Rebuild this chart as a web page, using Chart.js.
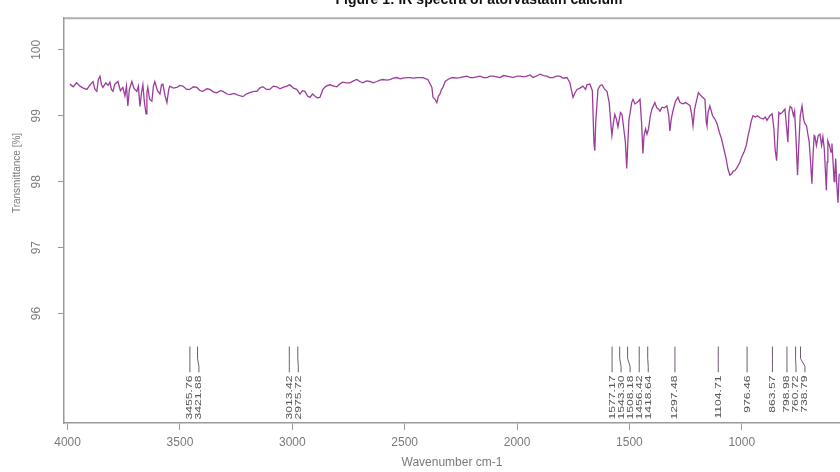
<!DOCTYPE html>
<html>
<head>
<meta charset="utf-8">
<script src="https://cdn.jsdelivr.net/npm/chart.js@4.4.1/dist/chart.umd.min.js"></script>
<style>
html,body{margin:0;padding:0;background:#fff;overflow:hidden;}
canvas{display:block;}
</style>
</head>
<body>
<canvas id="c" width="840" height="472"></canvas>
<script>
// ---- data ----
const titleText = "Figure 1: IR spectra of atorvastatin calcium";
const xTitle = "Wavenumber cm-1";
const yTitle = "Transmittance [%]";
const xTickValues = [4000, 3500, 3000, 2500, 2000, 1500, 1000];
const yTickValues = [96, 97, 98, 99, 100];

const wavenumbers = [
3990,3975,3960,3945,3930,3914,3900,3887,3878,3870,3863,3856,3849,3843,3830,3820,3812,3805,3798,3790,
3776,3765,3754,3745,3738,3732,3725,3714,3705,3692,3685,3678,3671,3665,3658,3651,3647,3643,3635,3625,
3618,3612,3600,3589,3582,3576,3566,3558,3550,3545,3530,3514,3500,3487,3470,3456,3440,3425,3410,3398,
3380,3367,3350,3336,3320,3309,3290,3278,3260,3247,3230,3220,3205,3189,3170,3158,3145,3131,3115,3100,
3085,3069,3055,3042,3025,3011,2995,2980,2966,2955,2944,2932,2922,2910,2900,2888,2877,2864,2850,2833,
2815,2802,2790,2775,2760,2744,2728,2713,2700,2686,2670,2655,2640,2624,2610,2597,2580,2566,2550,2535,
2520,2508,2490,2477,2460,2446,2430,2419,2405,2397,2385,2379,2374,2365,2357,2350,2343,2336,2330,2320,
2308,2295,2285,2270,2254,2240,2223,2210,2196,2180,2165,2150,2134,2120,2107,2090,2076,2060,2045,2030,
2018,2000,1987,1970,1956,1942,1929,1915,1898,1882,1867,1855,1840,1825,1809,1795,1778,1765,1751,1742,
1733,1720,1707,1695,1689,1676,1665,1658,1654,1650,1640,1630,1622,1610,1600,1590,1582,1578,1571,1565,
1558,1551,1545,1540,1533,1525,1518,1512,1507,1502,1498,1490,1484,1475,1467,1460,1453,1446,1440,1435,
1428,1422,1415,1407,1400,1393,1387,1378,1370,1364,1355,1345,1333,1325,1320,1314,1306,1295,1284,1275,
1262,1250,1240,1230,1222,1217,1210,1200,1193,1186,1175,1164,1158,1155,1150,1142,1130,1120,1110,1100,
1090,1080,1070,1062,1053,1045,1038,1030,1020,1008,1000,990,980,972,965,958,950,940,930,919,
905,895,888,875,865,857,852,845,840,835,830,820,808,800,795,790,785,778,770,765,
758,752,747,740,732,725,719,712,706,700,694,688,683,678,675,668,660,652,645,639,
633,627,624,620,617,610,603,599,594,589,586,582,578,572,567,563
];
const transmittance = [
99.48,99.44,99.50,99.45,99.42,99.40,99.47,99.52,99.40,99.37,99.55,99.60,99.47,99.43,99.50,99.46,99.51,99.40,99.37,99.48,
99.52,99.38,99.43,99.30,99.45,99.15,99.40,99.52,99.42,99.37,99.45,99.14,99.35,99.47,99.20,99.03,99.35,99.43,99.25,99.22,
99.45,99.52,99.38,99.33,99.47,99.48,99.30,99.20,99.40,99.45,99.42,99.43,99.46,99.45,99.40,99.40,99.44,99.43,99.38,99.37,
99.41,99.40,99.36,99.35,99.38,99.37,99.33,99.32,99.34,99.32,99.30,99.29,99.33,99.35,99.37,99.37,99.42,99.44,99.40,99.40,
99.45,99.44,99.41,99.43,99.45,99.47,99.42,99.40,99.33,99.38,99.37,99.30,99.28,99.33,99.30,99.27,99.28,99.40,99.45,99.47,
99.45,99.44,99.48,99.51,99.50,99.50,99.53,99.55,99.52,99.50,99.53,99.52,99.50,99.52,99.54,99.55,99.54,99.55,99.57,99.58,
99.56,99.57,99.58,99.58,99.57,99.58,99.58,99.58,99.56,99.55,99.47,99.43,99.28,99.25,99.20,99.30,99.33,99.40,99.43,99.52,
99.55,99.57,99.58,99.57,99.58,99.59,99.60,99.58,99.58,99.59,99.60,99.58,99.58,99.60,99.60,99.59,99.58,99.61,99.60,99.59,
99.58,99.60,99.60,99.59,99.60,99.62,99.58,99.60,99.63,99.61,99.60,99.58,99.58,99.60,99.60,99.57,99.58,99.50,99.28,99.35,
99.40,99.42,99.45,99.40,99.47,99.48,99.38,98.60,98.47,98.90,99.40,99.46,99.47,99.40,99.37,99.20,98.85,98.70,98.90,99.02,
98.95,98.83,98.95,99.05,99.02,98.80,98.60,98.20,98.60,98.95,99.02,99.20,99.25,99.18,99.20,99.22,99.25,98.90,98.43,98.70,
98.80,98.72,98.80,99.00,99.10,99.15,99.20,99.12,99.10,99.07,99.13,99.12,99.15,99.00,98.77,98.95,99.08,99.22,99.28,99.20,
99.18,99.20,99.18,99.15,99.00,98.85,99.10,99.25,99.35,99.32,99.28,99.25,98.90,98.85,99.05,99.15,99.00,98.95,98.88,98.75,
98.65,98.50,98.35,98.20,98.10,98.12,98.16,98.17,98.22,98.30,98.38,98.45,98.55,98.70,98.80,98.92,99.00,98.98,99.00,98.97,
98.95,98.98,98.93,99.00,99.03,98.80,98.50,98.32,98.70,99.05,99.03,99.05,99.10,98.80,98.60,99.05,99.14,99.12,99.00,99.07,
98.60,98.10,98.50,99.00,99.15,98.95,98.88,98.85,98.72,98.60,98.30,97.97,98.40,98.70,98.69,98.55,98.70,98.72,98.55,98.68,
98.50,98.10,97.87,98.30,98.62,98.55,98.45,98.58,98.30,98.00,98.12,98.35,98.00,97.68,98.10,98.12
];

const peakWavenumbers = [3455.76,3421.88,3013.42,2975.72,1577.17,1543.30,1508.18,1456.42,1418.64,1297.48,1104.71,976.46,863.57,798.98,760.72,738.79];
const peakLabels = ["3455.76","3421.88","3013.42","2975.72","1577.17","1543.30","1508.18","1456.42","1418.64","1297.48","1104.71","976.46","863.57","798.98","760.72","738.79"];

// ---- chart ----
const points = wavenumbers.map((w, i) => ({x: w, y: transmittance[i]}));
const FONT = "'Liberation Sans', Arial, sans-serif";
const AXIS_GRAY = '#9a9a9a';
const TEXT_GRAY = '#7a7a7a';

const decorPlugin = {
  id: 'decor',
  afterDraw(chart) {
    const {ctx, chartArea, scales} = chart;
    const xs = scales.x, ys = scales.y;
    ctx.save();
    // top frame line
    ctx.strokeStyle = '#b0b0b0';
    ctx.lineWidth = 2;
    ctx.beginPath();
    ctx.moveTo(chartArea.left, chartArea.top);
    ctx.lineTo(chartArea.right, chartArea.top);
    ctx.stroke();
    // title (partly cut by the top edge, as in the reference)
    ctx.fillStyle = '#111';
    ctx.font = "bold 14px " + FONT;
    ctx.textAlign = 'center';
    ctx.textBaseline = 'alphabetic';
    ctx.fillText(titleText, 479, 4);
    // y title
    ctx.save();
    ctx.translate(17, 173);
    ctx.rotate(-Math.PI / 2);
    ctx.fillStyle = TEXT_GRAY;
    ctx.font = "10px " + FONT;
    ctx.textAlign = 'center';
    ctx.textBaseline = 'middle';
    ctx.fillText(yTitle, 0, 0);
    ctx.restore();
    // peak markers
    const yTop = ys.getPixelForValue(95.5);
    const yKink = ys.getPixelForValue(95.32);
    const ySlant = ys.getPixelForValue(95.2);
    const yBot = ys.getPixelForValue(95.11);
    const yText = ys.getPixelForValue(95.06);
    let prev = -Infinity;
    ctx.strokeStyle = '#6e5a6e';
    ctx.lineWidth = 1;
    ctx.fillStyle = '#555';
    ctx.font = "9px " + FONT;
    peakWavenumbers.forEach((w, i) => {
      const px = xs.getPixelForValue(w);
      const lx = Math.max(px, prev + 9);
      prev = lx;
      ctx.beginPath();
      ctx.moveTo(px, yTop);
      ctx.lineTo(px, yKink);
      ctx.lineTo(lx, ySlant);
      ctx.lineTo(lx, yBot);
      ctx.stroke();
      ctx.save();
      ctx.translate(lx, yText);
      ctx.rotate(-Math.PI / 2);
      ctx.scale(1.35, 1);
      ctx.textAlign = 'right';
      ctx.textBaseline = 'middle';
      ctx.fillText(peakLabels[i], 0, 0);
      ctx.restore();
    });
    ctx.restore();
  }
};

new Chart(document.getElementById('c'), {
  type: 'line',
  data: {
    datasets: [{
      data: points,
      borderColor: '#9c3c9c',
      borderWidth: 1.3,
      pointRadius: 0,
      tension: 0,
      fill: false
    }]
  },
  options: {
    responsive: false,
    animation: false,
    devicePixelRatio: 1,
    layout: {padding: {top: 12, right: 0, left: 0, bottom: 0}},
    plugins: {legend: {display: false}, tooltip: {enabled: false}, title: {display: false}},
    scales: {
      x: {
        type: 'linear',
        reverse: true,
        min: 563,
        max: 4016,
        afterBuildTicks: s => { s.ticks = xTickValues.map(v => ({value: v})); },
        afterFit: s => { s.height = 49; },
        ticks: {
          color: TEXT_GRAY,
          font: {family: FONT, size: 12},
          padding: 5,
          maxRotation: 0,
          autoSkip: false,
          callback: v => String(v)
        },
        grid: {drawOnChartArea: false, drawTicks: true, tickLength: 7, color: AXIS_GRAY},
        border: {display: true, color: AXIS_GRAY, width: 1.5},
        title: {display: true, text: xTitle, color: TEXT_GRAY, font: {family: FONT, size: 12}, padding: {top: 0, bottom: 2}}
      },
      y: {
        type: 'linear',
        min: 94.34,
        max: 100.48,
        afterBuildTicks: s => { s.ticks = yTickValues.map(v => ({value: v})); },
        afterFit: s => { s.width = 64; },
        ticks: {
          color: TEXT_GRAY,
          font: {family: FONT, size: 12},
          minRotation: 90,
          maxRotation: 90,
          crossAlign: 'center',
          padding: 11,
          autoSkip: false,
          callback: v => String(v)
        },
        grid: {drawOnChartArea: false, drawTicks: true, tickLength: 6, color: AXIS_GRAY},
        border: {display: true, color: AXIS_GRAY, width: 1.5}
      }
    }
  },
  plugins: [decorPlugin]
});
</script>
</body>
</html>
